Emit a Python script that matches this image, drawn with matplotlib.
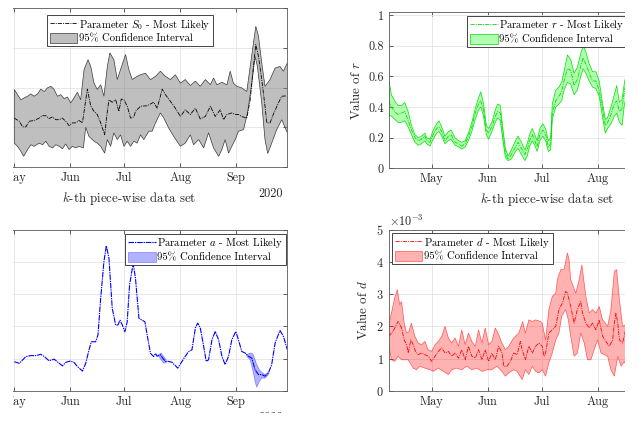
import matplotlib.pyplot as plt
import matplotlib.dates as mdates
import numpy as np
from matplotlib.patches import Rectangle

plt.rcParams['font.family'] = ['cmr10', 'DejaVu Serif']
plt.rcParams['mathtext.fontset'] = 'cm'
plt.rcParams['axes.formatter.use_mathtext'] = True
plt.rcParams['axes.unicode_minus'] = False

# ---- data (days after the base date of each panel) ----
# S0, days after 1 May 2020
s0_mid_d = [0, 2.8, 4.6, 6.4, 8.3, 11.0, 13.8, 15.7, 17.5, 19.3, 21.2, 23.0, 24.9, 26.7, 28.5,
            30.4, 32.2, 34.1, 35.9, 37.8, 38.7, 40.5, 42.4, 44.2, 46.0, 47.9, 50.1, 51.6, 52.5, 54.3,
            56.2, 58.0, 59.3, 60.8, 62.6, 64.5, 66.3, 67.2, 70.0, 73.7, 77.3, 79.2, 81.0, 82.0, 83.8,
            86.6, 89.3, 92.1, 94.8, 97.6, 100.4, 103.1, 105.9, 108.7, 111.4, 114.2, 116.0, 117.9, 120.6, 122.5,
            124.3, 126.1, 128.9, 130.8, 132.6, 133.9, 135.4, 137.2, 139.0, 140.0, 141.8, 143.6, 146.4, 148.3, 151.0]
s0_mid = [1.23, 1.15, 1.01, 1.01, 1.15, 1.17, 1.23, 1.29, 1.29, 1.22, 1.26, 1.19, 1.19, 1.23, 1.15,
          1.04, 1.11, 1.11, 1.17, 1.11, 1.40, 1.96, 1.53, 1.40, 1.32, 1.11, 0.81, 1.40, 1.69, 1.63,
          1.69, 1.40, 1.71, 1.69, 1.53, 1.23, 1.26, 1.40, 1.53, 1.54, 1.63, 1.48, 1.78, 1.96, 1.82,
          1.65, 1.48, 1.27, 1.44, 1.32, 1.48, 1.21, 1.27, 1.53, 1.27, 1.44, 1.19, 1.32, 1.36, 1.32,
          1.32, 1.27, 1.23, 1.69, 2.53, 3.08, 2.78, 2.20, 1.53, 1.11, 1.11, 1.32, 1.61, 1.78, 1.79]
s0_hi_d = [0, 1.8, 3.7, 5.5, 7.4, 9.2, 11.0, 12.9, 14.7, 16.6, 18.4, 20.3, 22.1, 23.9, 25.8,
           27.6, 29.5, 31.3, 33.1, 35.0, 36.8, 38.7, 40.9, 42.4, 44.2, 46.0, 47.9, 49.7, 51.6, 53.0,
           55.2, 57.1, 58.9, 61.7, 63.5, 65.4, 68.1, 70.0, 72.7, 75.5, 78.3, 81.0, 83.8, 86.6, 89.3,
           92.1, 94.8, 97.6, 100.4, 103.1, 105.9, 108.7, 110.5, 112.3, 115.1, 117.9, 119.7, 121.5, 123.4, 126.1,
           128.9, 130.8, 132.6, 133.9, 135.4, 137.2, 139.0, 141.8, 144.6, 147.3, 149.2, 151.4]
s0_hi = [1.95, 1.82, 1.69, 1.74, 1.78, 1.84, 1.78, 1.84, 1.96, 1.90, 1.99, 2.03, 1.95, 1.78, 1.82,
         1.72, 1.76, 1.61, 1.74, 1.88, 1.69, 2.45, 2.70, 2.53, 2.11, 1.95, 2.07, 1.78, 2.53, 2.87,
         2.70, 2.20, 2.45, 2.83, 2.45, 2.20, 2.28, 2.32, 2.36, 2.20, 2.28, 2.41, 2.28, 2.20, 2.32,
         2.11, 2.20, 2.05, 2.16, 2.03, 2.20, 2.07, 2.24, 2.07, 2.13, 2.07, 2.41, 2.11, 2.03, 1.99,
         1.90, 2.53, 3.12, 3.54, 3.29, 2.62, 2.03, 2.20, 2.49, 2.53, 2.41, 2.62]
s0_lo_d = [0, 1.8, 3.7, 5.2, 7.4, 9.2, 11.0, 13.8, 15.7, 17.5, 19.3, 21.2, 23.0, 24.9, 26.7,
           28.5, 30.4, 32.2, 34.1, 35.9, 38.3, 39.6, 41.4, 44.2, 46.0, 47.9, 50.1, 51.6, 53.4, 55.2,
           57.1, 58.9, 60.8, 62.6, 64.5, 66.3, 68.1, 70.0, 71.8, 74.6, 76.4, 78.3, 81.0, 82.9, 85.6,
           88.4, 92.1, 94.8, 97.6, 99.4, 102.2, 105.0, 107.7, 110.5, 113.3, 115.1, 116.9, 118.8, 120.6, 122.5,
           124.3, 127.1, 129.3, 131.7, 133.5, 134.8, 137.2, 139.0, 140.5, 142.7, 145.5, 148.3, 151.4]
s0_lo = [0.60, 0.52, 0.39, 0.27, 0.44, 0.56, 0.52, 0.60, 0.56, 0.65, 0.52, 0.48, 0.56, 0.52, 0.46,
         0.58, 0.44, 0.52, 0.48, 0.52, 0.48, 1.00, 0.77, 0.65, 0.60, 0.52, 0.35, 0.69, 0.52, 0.86,
         0.69, 0.81, 0.52, 0.65, 0.52, 0.65, 0.60, 0.81, 0.69, 0.90, 0.90, 1.11, 1.36, 1.23, 0.98,
         0.77, 0.52, 0.60, 0.81, 0.56, 0.69, 0.48, 0.86, 0.48, 0.27, 0.44, 0.69, 0.35, 0.52, 0.69,
         0.90, 0.94, 1.36, 2.11, 2.78, 2.53, 1.61, 0.69, 0.34, 0.60, 0.94, 1.19, 0.86]

# r, days after 7 April 2020
r_d = [0, 1.5, 3.3, 5.2, 7.1, 8.9, 10.8, 12.6, 14.5, 16.4, 18.2, 20.1, 21.0, 22.9, 24.7,
       26.6, 27.9, 29.4, 31.2, 33.1, 34.6, 36.8, 38.7, 40.5, 42.4, 44.2, 46.1, 48.0, 49.8, 51.1,
       52.6, 54.1, 55.4, 57.2, 59.1, 60.4, 61.9, 63.2, 64.7, 66.2, 68.0, 70.3, 71.7, 73.6, 75.5,
       76.8, 78.1, 79.6, 81.0, 82.3, 83.8, 85.5, 87.0, 88.5, 89.8, 90.7, 92.6, 94.4, 95.9, 97.2,
       99.1, 100.9, 102.8, 104.6, 106.5, 107.8, 109.3, 111.2, 113.0, 114.9, 116.7, 118.6, 120.1, 121.4, 123.2,
       125.1, 126.4, 127.9, 129.4, 130.7, 131.6]
r_mid = [.45, .40, .37, .35, .36, .37, .31, .25, .20, .18, .19, .21, .18, .17, .22,
         .26, .27, .24, .18, .21, .22, .17, .16, .145, .16, .21, .27, .36, .42, .44,
         .38, .25, .23, .27, .34, .37, .36, .23, .10, .06, .09, .14, .17, .13, .09,
         .12, .18, .22, .18, .14, .22, .25, .22, .14, .16, .36, .44, .47, .50, .57,
         .65, .64, .54, .58, .67, .72, .68, .62, .57, .57, .51, .38, .28, .30, .35,
         .42, .44, .37, .39, .51, .55]
r_hi = [.58, .48, .44, .41, .41, .43, .37, .28, .22, .20, .21, .23, .20, .19, .25,
        .29, .31, .27, .21, .24, .25, .20, .18, .17, .18, .23, .30, .39, .46, .50,
        .42, .28, .26, .30, .38, .42, .41, .27, .13, .08, .12, .18, .21, .17, .12,
        .16, .22, .26, .22, .18, .26, .29, .26, .18, .20, .42, .51, .53, .56, .63,
        .74, .71, .62, .66, .75, .80, .76, .68, .63, .63, .57, .42, .32, .33, .40,
        .48, .54, .43, .45, .56, .61]
r_lo = [.35, .34, .32, .30, .30, .31, .27, .22, .17, .15, .16, .18, .16, .145, .19,
        .23, .24, .21, .16, .18, .19, .15, .14, .125, .14, .18, .24, .32, .38, .40,
        .34, .22, .19, .24, .30, .33, .31, .19, .07, .05, .06, .11, .13, .09, .05,
        .08, .14, .18, .15, .11, .18, .21, .18, .11, .12, .32, .40, .42, .44, .51,
        .56, .55, .48, .51, .60, .65, .62, .57, .53, .52, .47, .33, .23, .26, .29,
        .34, .36, .30, .28, .42, .45]

# a, days after 1 May 2020
a_d = [0.0, 2.8, 6.4, 9.2, 12.0, 14.7, 16.6, 19.3, 22.1, 23.9, 26.7, 28.5, 30.9, 33.1, 35.0,
       37.8, 39.6, 41.4, 42.7, 45.1, 46.4, 47.9, 49.7, 51.0, 52.5, 54.3, 56.2, 57.5, 58.6, 59.9,
       61.3, 62.6, 63.9, 65.9, 67.2, 69.1, 70.9, 72.4, 74.0, 75.5, 77.3, 78.3, 79.2, 81.0, 82.3,
       83.8, 85.6, 87.5, 89.3, 90.6, 93.0, 94.8, 96.7, 98.5, 100.4, 101.7, 103.1, 105.0, 106.4, 107.7,
       109.6, 111.4, 113.3, 115.1, 116.9, 118.8, 120.6, 122.8, 124.3, 126.1, 128.0, 129.8, 131.7, 133.5, 135.4,
       137.2, 139.0, 140.9, 142.7, 144.6, 147.3, 149.2, 151.4]
a_mid = [0.90, 0.85, 1.06, 1.09, 1.09, 1.13, 1.06, 0.93, 0.98, 0.90, 0.77, 0.88, 0.92, 0.88, 0.75,
         0.61, 0.85, 1.26, 1.52, 1.52, 1.73, 2.87, 4.01, 4.50, 4.11, 2.56, 2.04, 2.04, 2.19, 2.04,
         1.83, 2.14, 3.28, 3.95, 3.49, 2.25, 2.19, 2.14, 1.63, 1.16, 1.06, 1.16, 1.07, 1.12, 1.01,
         0.91, 0.91, 0.88, 0.78, 0.70, 0.91, 1.07, 1.22, 1.27, 1.95, 2.10, 1.95, 1.38, 0.91, 0.96,
         1.58, 1.84, 1.58, 1.07, 0.81, 1.07, 1.58, 1.84, 1.58, 1.22, 1.17, 1.07, 1.01, 0.65, 0.50,
         0.50, 0.45, 0.55, 0.81, 1.48, 1.87, 1.69, 1.27]
a_ci1_d = [80.1, 81.4, 82.9, 84.2]
a_ci1_hi = [1.12, 1.17, 1.05, 0.96]
a_ci1_lo = [1.07, 0.96, 0.86, 0.86]
a_ci2_d = [128.9, 130.8, 132.2, 133.5, 134.4, 135.9, 137.2, 139.0, 140.9]
a_ci2_hi = [1.12, 1.17, 1.15, 0.96, 0.81, 0.65, 0.57, 0.50, 0.57]
a_ci2_lo = [1.07, 0.96, 0.65, 0.29, 0.11, 0.29, 0.39, 0.39, 0.50]

# d (x1e-3), days after 7 April 2020
d_mid_d = [0.0, 2.4, 5.2, 7.1, 8.6, 9.9, 10.8, 12.3, 13.6, 14.9, 16.4, 18.2, 20.1, 21.9, 23.8,
           25.7, 27.5, 29.4, 31.2, 33.1, 34.9, 36.8, 38.7, 40.5, 42.4, 44.2, 46.1, 48.0, 49.8, 51.7,
           53.5, 55.4, 57.2, 59.1, 61.0, 62.8, 63.8, 65.6, 67.5, 69.3, 71.2, 73.0, 74.0, 75.8, 77.7,
           79.6, 81.4, 83.3, 85.1, 86.1, 87.0, 88.8, 90.7, 92.6, 94.4, 96.3, 98.1, 99.1, 100.9, 102.8,
           104.6, 106.5, 107.4, 109.3, 111.2, 113.0, 114.9, 116.7, 118.6, 120.4, 122.3, 124.2, 125.1, 126.0, 127.0,
           127.9, 129.7, 131.6]
d_mid = [1.69, 1.84, 2.15, 1.95, 1.58, 1.43, 1.17, 1.58, 1.43, 1.22, 1.12, 1.17, 1.12, 1.07, 0.91,
         1.07, 1.22, 1.33, 1.17, 1.22, 1.07, 1.17, 1.01, 1.27, 0.96, 1.38, 1.07, 1.01, 1.27, 0.96,
         1.27, 0.91, 1.17, 0.96, 1.38, 1.17, 0.76, 0.76, 0.91, 1.17, 1.12, 1.53, 1.27, 0.96, 1.38,
         1.17, 1.38, 1.48, 1.38, 1.07, 1.17, 1.79, 1.89, 2.00, 2.52, 2.72, 3.08, 3.03, 2.62, 2.10,
         2.52, 2.77, 2.41, 2.10, 1.95, 2.10, 1.89, 2.20, 1.69, 1.53, 1.38, 1.58, 2.10, 2.41, 2.10,
         1.58, 1.48, 1.95]
d_hi_d = [0.0, 1.5, 3.3, 4.8, 6.1, 7.1, 8.6, 9.9, 11.2, 12.6, 14.5, 16.4, 18.2, 20.1, 21.9,
          23.8, 25.7, 27.5, 29.4, 31.2, 33.1, 34.9, 36.8, 38.7, 40.5, 42.4, 44.2, 46.1, 48.0, 49.8,
          51.7, 53.5, 55.4, 57.2, 59.1, 61.0, 62.8, 64.7, 66.5, 69.3, 72.1, 74.3, 75.8, 77.7, 79.6,
          81.4, 84.2, 85.1, 87.0, 88.8, 90.7, 92.6, 93.5, 95.4, 97.2, 99.1, 100.0, 100.9, 103.7, 105.6,
          107.1, 109.3, 111.2, 113.0, 114.9, 116.7, 118.6, 120.1, 121.4, 123.2, 125.1, 126.4, 127.9, 129.7, 131.6]
d_hi = [2.05, 2.41, 2.88, 3.14, 2.67, 2.77, 2.10, 1.79, 1.84, 2.10, 1.69, 1.48, 1.43, 1.53, 1.27,
        1.22, 1.43, 1.53, 1.69, 2.00, 1.64, 1.48, 1.64, 1.38, 1.89, 1.43, 1.79, 1.53, 1.38, 1.89,
        1.48, 1.95, 1.43, 1.53, 1.95, 1.74, 1.48, 1.27, 1.38, 1.64, 1.79, 2.15, 1.79, 2.20, 2.15,
        2.20, 2.15, 2.10, 1.58, 2.52, 2.93, 3.03, 3.45, 3.76, 3.76, 4.28, 4.07, 3.45, 3.03, 3.45,
        3.91, 2.93, 2.41, 2.52, 2.41, 2.62, 2.20, 2.10, 2.00, 2.52, 3.71, 3.76, 2.83, 2.00, 2.05]
d_lo_d = [0.0, 1.5, 3.3, 5.2, 7.1, 8.9, 10.8, 13.6, 15.4, 17.3, 20.1, 22.9, 24.7, 27.5, 30.3,
          33.1, 34.9, 37.7, 40.5, 43.3, 46.1, 48.9, 51.7, 54.5, 57.2, 60.0, 62.8, 64.7, 66.5, 69.3,
          71.2, 74.0, 75.8, 77.7, 79.6, 81.4, 83.3, 85.1, 87.0, 88.8, 90.7, 92.6, 94.4, 95.9, 98.1,
          99.6, 100.9, 102.8, 104.6, 106.5, 108.4, 110.2, 112.1, 113.9, 115.8, 117.7, 119.5, 121.4, 123.2, 125.1,
          127.0, 128.8, 130.7, 131.6]
d_lo = [1.38, 0.96, 0.91, 1.07, 0.96, 0.96, 0.96, 0.70, 0.65, 0.76, 0.70, 0.65, 0.60, 0.70, 0.60,
        0.50, 0.65, 0.70, 0.65, 0.76, 0.65, 0.70, 0.60, 0.65, 0.65, 0.76, 0.60, 0.45, 0.55, 0.65,
        0.60, 0.34, 0.65, 0.50, 0.76, 0.60, 0.55, 0.65, 0.45, 0.86, 1.17, 1.58, 1.79, 2.31, 2.52,
        2.20, 1.69, 1.07, 1.17, 1.79, 1.48, 0.96, 0.96, 1.27, 1.58, 1.17, 1.12, 1.07, 0.65, 0.45,
        1.07, 0.76, 0.91, 0.76]

t_may = mdates.date2num(np.datetime64('2020-05-01'))
t_apr = mdates.date2num(np.datetime64('2020-04-07'))
span = 175.2

W, H = 638, 426
fig = plt.figure(figsize=(W / 100, H / 100), dpi=100)


def px_axes(left, top, width, height):
    return fig.add_axes([left / W, (H - top - height) / H, width / W, height / H])


ax1 = px_axes(-29, 8, 316, 159)
ax2 = px_axes(388.7, 12, 316, 156.3)
ax3 = px_axes(-29, 229.7, 316, 161)
ax4 = px_axes(388.7, 229.7, 316, 161)

dash = (0, (5, 1.3, 1.2, 1.3))


def band(ax, xd, yh, xl, yl, base, fc, ec, scale=1.0):
    xs = np.r_[base + np.array(xd), base + np.array(xl)[::-1]]
    ys = np.r_[np.array(yh), np.array(yl)[::-1]] * scale
    return ax.fill(xs, ys, facecolor=fc, edgecolor=ec, lw=0.5)[0]


def style(ax, sec_y=None):
    ax.set_xlim(t_apr, t_apr + span)
    ax.xaxis.set_major_locator(mdates.MonthLocator())
    ax.xaxis.set_major_formatter(mdates.DateFormatter('%b'))
    ax.grid(True, color='#e4e4e4', lw=0.6)
    ax.set_axisbelow(True)
    ax.tick_params(direction='in', length=3, width=0.5, top=True, right=True,
                   labelsize=8.8, colors='#262626')
    for s in ax.spines.values():
        s.set_color('#5a5a5a')
        s.set_linewidth(0.6)
    ax.set_xlabel('$k$-th piece-wise data set', fontsize=9.3, color='#262626')
    if sec_y is not None:
        ax.text(0.987, sec_y, '2020', transform=ax.transAxes, ha='right', va='center',
                fontsize=8.8, color='#262626')


def legend(ax, handles, labels, loc, anchor):
    leg = ax.legend(handles, labels, loc=loc, bbox_to_anchor=anchor, fontsize=7.7,
                    fancybox=False, edgecolor='#262626', framealpha=1, borderpad=0.25,
                    handlelength=2.6, handleheight=1.0, handletextpad=0.15,
                    labelspacing=0.15, borderaxespad=0)
    leg.get_frame().set_linewidth(0.6)


# S0
p1 = band(ax1, s0_hi_d, s0_hi, s0_lo_d, s0_lo, t_may, (0.5, 0.5, 0.5, 0.5), '#3a3a3a')
l1, = ax1.plot(t_may + np.array(s0_mid_d), s0_mid, color='black', lw=0.6, ls=dash)
ax1.set_ylim(0, 4)
ax1.set_yticks([0, 1, 2, 3, 4])
style(ax1, -0.17)
ax1.tick_params(labelleft=False)
legend(ax1, [l1, p1], ['Parameter $S_0$ - Most Likely', '95% Confidence Interval'],
       'upper left', (0.2405, 0.956))

# r
p2 = band(ax2, r_d, r_hi, r_d, r_lo, t_apr, (0.0, 1.0, 0.0, 0.3), '#00e000')
l2, = ax2.plot(t_apr + np.array(r_d), r_mid, color='#00e000', lw=0.6, ls=dash)
ax2.set_ylim(0, 1.02)
ax2.set_yticks([0, 0.2, 0.4, 0.6, 0.8, 1.0], ['0', '0.2', '0.4', '0.6', '0.8', '1'])
style(ax2)
ax2.set_ylabel('Value of $r$', fontsize=9.3, color='#262626')
legend(ax2, [l2, p2], ['Parameter $r$ - Most Likely', '95% Confidence Interval'],
       'upper left', (0.2487, 0.976))

# a
p3 = band(ax3, a_ci1_d, a_ci1_hi, a_ci1_d, a_ci1_lo, t_may, (0.0, 0.0, 1.0, 0.3), (0, 0, 1, 0.4))
band(ax3, a_ci2_d, a_ci2_hi, a_ci2_d, a_ci2_lo, t_may, (0.0, 0.0, 1.0, 0.3), (0, 0, 1, 0.4))
l3, = ax3.plot(t_may + np.array(a_d), a_mid, color='#0000ff', lw=0.8, ls=(0, (5, 0.8, 1.2, 0.8)))
ax3.set_ylim(0, 5)
ax3.set_yticks([0, 1, 2, 3, 4, 5])
style(ax3, -0.168)
ax3.tick_params(labelleft=False)
legend(ax3, [l3, p3], ['Parameter $a$ - Most Likely', '95% Confidence Interval'],
       'upper right', (0.997, 0.975))

# d
p4 = band(ax4, d_hi_d, d_hi, d_lo_d, d_lo, t_apr, (1.0, 0.0, 0.0, 0.3), (1, 0, 0, 0.6), 1e-3)
l4, = ax4.plot(t_apr + np.array(d_mid_d), np.array(d_mid) * 1e-3, color='#ff0000', lw=0.6, ls=dash)
ax4.set_ylim(0, 5e-3)
ax4.set_yticks([0, 1e-3, 2e-3, 3e-3, 4e-3, 5e-3])
ax4.ticklabel_format(axis='y', style='sci', scilimits=(0, 0), useMathText=True)
style(ax4)
ax4.yaxis.get_offset_text().set_fontsize(8.8)
ax4.set_ylabel('Value of $d$', fontsize=9.3, color='#262626')
legend(ax4, [l4, p4], ['Parameter $d$ - Most Likely', '95% Confidence Interval'],
       'upper left', (0.0104, 0.98))

# the picture is a cropped composite: blank the trimmed margins
for x0, y0, w, h in [(0, 0, 12.5, H), (625, 0, W - 625, H), (0, 413, W, H - 413)]:
    fig.add_artist(Rectangle((x0 / W, (H - y0 - h) / H), w / W, h / H, transform=fig.transFigure,
                             facecolor='white', edgecolor='none', zorder=10))

fig.savefig('out.png', dpi=100)
